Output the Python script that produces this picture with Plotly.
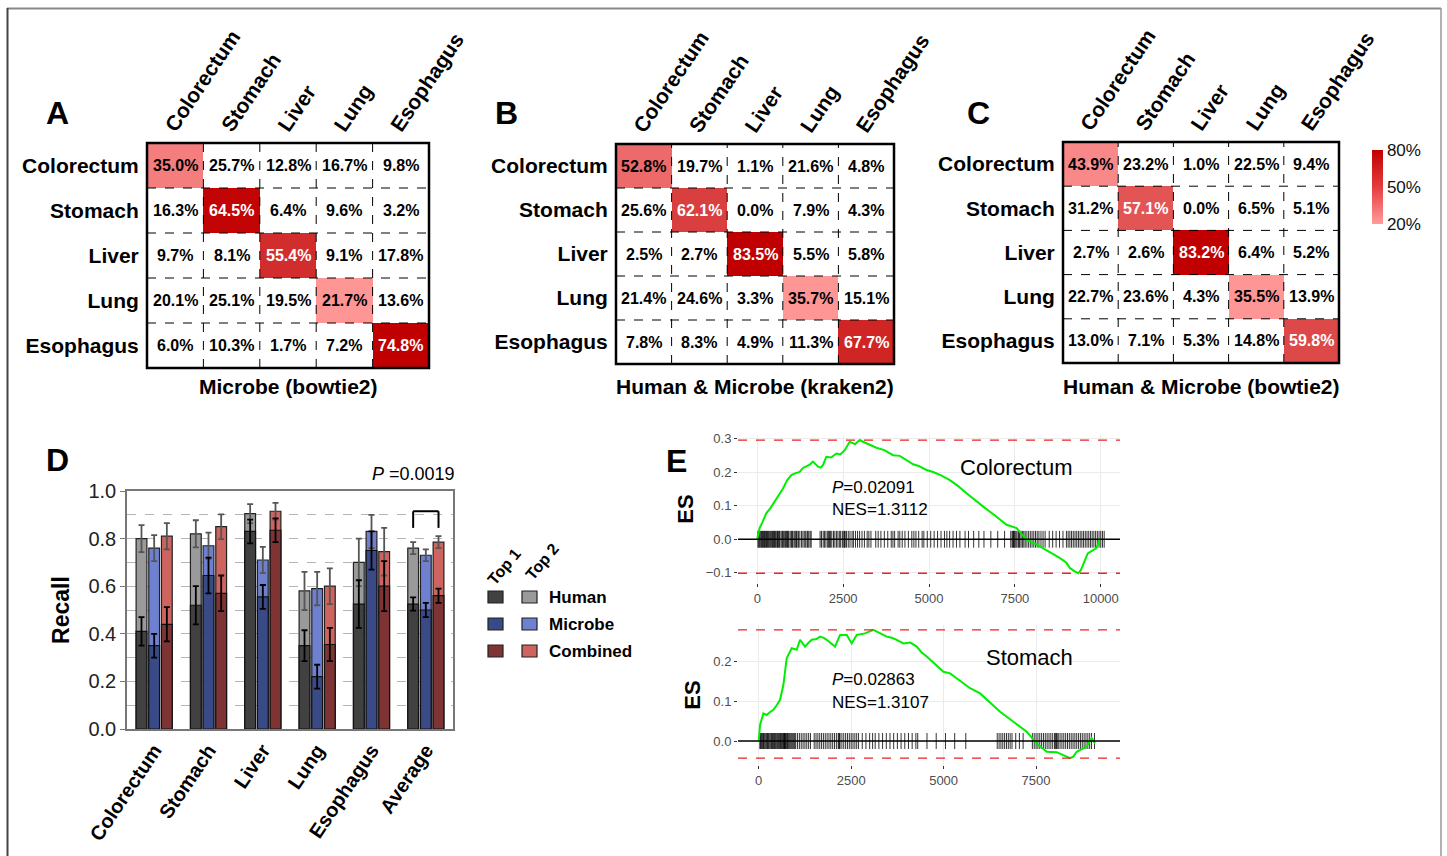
import plotly.graph_objects as go

W, H = 1447, 856
def fx(p):
    return p / W
def fy(p):
    return 1 - p / H

FONT = "Arial, 'Liberation Sans', sans-serif"

# ---------------- data: confusion matrices (A, B, C) ----------------
organs = ["Colorectum", "Stomach", "Liver", "Lung", "Esophagus"]
panel_titles = ["Microbe (bowtie2)", "Human & Microbe (kraken2)", "Human & Microbe (bowtie2)"]
conf_A = [[35.0, 25.7, 12.8, 16.7, 9.8],
          [16.3, 64.5, 6.4, 9.6, 3.2],
          [9.7, 8.1, 55.4, 9.1, 17.8],
          [20.1, 25.1, 19.5, 21.7, 13.6],
          [6.0, 10.3, 1.7, 7.2, 74.8]]
conf_B = [[52.8, 19.7, 1.1, 21.6, 4.8],
          [25.6, 62.1, 0.0, 7.9, 4.3],
          [2.5, 2.7, 83.5, 5.5, 5.8],
          [21.4, 24.6, 3.3, 35.7, 15.1],
          [7.8, 8.3, 4.9, 11.3, 67.7]]
conf_C = [[43.9, 23.2, 1.0, 22.5, 9.4],
          [31.2, 57.1, 0.0, 6.5, 5.1],
          [2.7, 2.6, 83.2, 6.4, 5.2],
          [22.7, 23.6, 4.3, 35.5, 13.9],
          [13.0, 7.1, 5.3, 14.8, 59.8]]
colorbar_ticks = [20, 50, 80]
colorbar_labels = ["20%", "50%", "80%"]

# ---------------- data: recall bars (D) ----------------
recall_cats = ["Colorectum", "Stomach", "Liver", "Lung", "Esophagus", "Average"]
human_top1 = [0.41, 0.52, 0.83, 0.35, 0.525, 0.525]
human_top1_err = [0.06, 0.08, 0.05, 0.065, 0.10, 0.028]
human_top2 = [0.80, 0.82, 0.905, 0.58, 0.70, 0.76]
human_top2_err = [0.057, 0.057, 0.04, 0.08, 0.10, 0.025]
microbe_top1 = [0.35, 0.645, 0.555, 0.22, 0.75, 0.50]
microbe_top1_err = [0.05, 0.075, 0.05, 0.05, 0.08, 0.03]
microbe_top2 = [0.76, 0.77, 0.71, 0.59, 0.83, 0.73]
microbe_top2_err = [0.055, 0.055, 0.055, 0.07, 0.07, 0.025]
combined_top1 = [0.44, 0.57, 0.835, 0.355, 0.60, 0.56]
combined_top1_err = [0.072, 0.075, 0.05, 0.07, 0.105, 0.03]
combined_top2 = [0.81, 0.85, 0.915, 0.60, 0.745, 0.785]
combined_top2_err = [0.055, 0.052, 0.035, 0.075, 0.10, 0.025]
sources = ["Human", "Microbe", "Combined"]
p_value_text = "<i>P</i> =0.0019"
bracket_top = 0.915
bracket_foot = 0.845

# ---------------- data: GSEA running enrichment (E) ----------------
crc_rank = [0, 68, 150, 262, 380, 505, 620, 750, 870, 990, 1100, 1234, 1330, 1430, 1530,
            1623, 1700, 1770, 1850, 1915, 2010, 2150, 2303, 2420, 2546, 2692, 2850, 2984,
            3080, 3178, 3320, 3469, 3700, 3955, 4150, 4300, 4538, 4700, 4927, 5121, 5350,
            5607, 5850, 6093, 6340, 6579, 6900, 7259, 7551, 7843, 8100, 8328, 8600, 8814,
            9000, 9106, 9252, 9349, 9420, 9475, 9550, 9621, 9718, 9864, 9932, 9961]
crc_es = [0.0, 0.033, 0.050, 0.077, 0.092, 0.112, 0.128, 0.151, 0.175, 0.191, 0.196,
          0.200, 0.212, 0.216, 0.222, 0.231, 0.222, 0.216, 0.213, 0.221, 0.245, 0.243,
          0.255, 0.252, 0.265, 0.290, 0.283, 0.295, 0.290, 0.285, 0.280, 0.272, 0.265,
          0.250, 0.248, 0.238, 0.223, 0.218, 0.206, 0.200, 0.190, 0.176, 0.158, 0.137,
          0.118, 0.097, 0.072, 0.043, 0.033, -0.002, -0.014, -0.027, -0.042, -0.056,
          -0.070, -0.086, -0.096, -0.101, -0.092, -0.076, -0.060, -0.042, -0.035, -0.027,
          -0.012, 0.0]
crc_hits = [20, 45, 60, 85, 110, 130, 150, 170, 190, 210, 230, 250, 270, 300, 320, 340,
            365, 390, 420, 440, 460, 480, 500, 520, 540, 570, 590, 610, 630, 650, 690, 720,
            740, 760, 800, 820, 850, 880, 900, 920, 960, 1000, 1020, 1040, 1080, 1120, 1140,
            1160, 1200, 1240, 1290, 1330, 1370, 1410, 1450, 1470, 1500, 1540, 1570,
            1830, 1870, 1920, 1960, 2000, 2050, 2080, 2100, 2130, 2170, 2220, 2260, 2310,
            2350, 2400, 2430, 2480, 2520, 2540, 2560, 2600, 2650, 2700, 2760, 2800, 2860,
            2920, 2980, 3050, 3120, 3200, 3250, 3310,
            3450, 3520, 3600, 3700, 3800, 3900, 3950, 4000, 4100, 4150, 4220, 4300, 4400,
            4500, 4560, 4620, 4700, 4800, 4850, 4950, 5050, 5150, 5250, 5350, 5450, 5520,
            5600, 5700, 5800, 5900, 6050, 6150, 6300, 6450, 6600, 6800, 7000, 7200, 7380,
            7420, 7440, 7460, 7480, 7500, 7530, 7560, 7600, 7620, 7640, 7680, 7720, 7760,
            7800, 7850, 7900, 7950, 8000, 8050, 8100, 8150, 8200, 8260, 8320, 8380,
            8500, 8600, 8700, 8800, 8900, 9000, 9050, 9100, 9150, 9200, 9250, 9300, 9350,
            9400, 9450, 9500, 9550, 9600, 9650, 9700, 9750, 9800, 9850, 9900, 9950, 10000,
            10050, 10100]
stom_rank = [0, 36, 126, 216, 300, 397, 490, 577, 667, 757, 892, 1028, 1118, 1253, 1340,
             1433, 1560, 1659, 1760, 1839, 2064, 2200, 2380, 2515, 2650, 2876, 3101, 3281,
             3462, 3600, 3732, 3913, 4100, 4273, 4400, 4544, 4780, 4995, 5175, 5450, 5716,
             5986, 6250, 6527, 6888, 7248, 7518, 7788, 8058, 8238, 8419, 8509, 8599, 8869,
             9004, 9094]
stom_es = [0.0, 0.040, 0.069, 0.065, 0.072, 0.078, 0.090, 0.103, 0.140, 0.207, 0.232,
           0.228, 0.253, 0.236, 0.245, 0.253, 0.255, 0.261, 0.258, 0.253, 0.236, 0.265,
           0.265, 0.244, 0.265, 0.269, 0.278, 0.269, 0.261, 0.258, 0.253, 0.244, 0.246,
           0.236, 0.222, 0.211, 0.192, 0.173, 0.169, 0.150, 0.132, 0.119, 0.097, 0.073,
           0.048, 0.023, -0.006, -0.027, -0.028, -0.035, -0.043, -0.039, -0.027, -0.014,
           0.007, -0.006]
stom_hits = [30, 50, 70, 90, 110, 130, 150, 175, 200, 220, 240, 260, 280, 305, 330, 350,
             370, 390, 410, 430, 450, 475, 500, 520, 540, 565, 590, 610, 630, 650, 670,
             690, 700, 710, 720, 740, 760, 780, 800, 825, 850, 875, 900, 925, 950, 975,
             1000, 1050, 1100, 1150, 1200, 1250, 1300, 1350, 1400,
             1500, 1550, 1600, 1650, 1700, 1750, 1800, 1850, 1900, 1950, 2000, 2050, 2100,
             2150, 2170, 2180, 2200, 2250, 2300, 2350, 2400, 2450, 2500, 2550, 2600, 2650,
             2700, 2800, 2900, 3000, 3080, 3150, 3250, 3350, 3450, 3550, 3650, 3750, 3850,
             3950, 4050, 4150, 4250, 4300, 4550, 4800, 5050, 5300, 5600,
             6450, 6500, 6550, 6600, 6650, 6700, 6750, 6800, 6850, 6950, 7050, 7150,
             7400, 7450, 7500, 7550, 7600, 7650, 7700, 7750, 7800, 7850, 7900, 7950, 8000,
             8030, 8050, 8070, 8100, 8150, 8200, 8250, 8300, 8350, 8400, 8450, 8500, 8550,
             8600, 8650, 8700, 8750, 8800, 8850, 8900, 8950, 9000, 9080]
gsea_names = ["Colorectum", "Stomach"]
gsea_p = ["0.02091", "0.02863"]
gsea_nes = ["1.3112", "1.3107"]

# ---------------- styles ----------------
heat_scale = [[0, "#ff9696"], [0.2, "#f88686"], [0.36, "#ec6a6a"], [0.5, "#de4a4a"],
              [0.65, "#d12a2a"], [0.8, "#c20404"], [1, "#c00000"]]
cbar_scale = [[0, "#ff9c9c"], [0.5, "#e63c3c"], [1, "#c00000"]]
dark_cols = {"Human": "#414141", "Microbe": "#3a4a86", "Combined": "#7e3434"}
light_cols = {"Human": "#9a9a9a", "Microbe": "#6e80cf", "Combined": "#cd6460"}

fig = go.Figure()
layout = dict()
shapes = []
annots = []


def ptext(x, y, text, size, weight="normal", xanchor="center", angle=0, color="black"):
    annots.append(dict(x=fx(x), y=fy(y), xref="paper", yref="paper", text=text,
                       xanchor=xanchor, yanchor="middle", showarrow=False, textangle=angle,
                       font=dict(family=FONT, size=size, color=color, weight=weight)))


# ---------------- heatmaps ----------------
heat_boxes = [(147, 429, 143, 368), (616, 894, 144, 364), (1063, 1339, 142, 363)]
letters = [("A", 57, 113), ("B", 506, 113), ("C", 978, 113)]
for i, conf in enumerate([conf_A, conf_B, conf_C]):
    n = i + 1
    xa = "x" if n == 1 else f"x{n}"
    ya = "y" if n == 1 else f"y{n}"
    xl = "xaxis" if n == 1 else f"xaxis{n}"
    yl = "yaxis" if n == 1 else f"yaxis{n}"
    l, r, t, b = heat_boxes[i]
    diag = [conf[k][k] for k in range(5)]
    z = [[conf[rr][cc] if rr == cc else None for cc in range(5)] for rr in range(5)]
    fig.add_trace(go.Heatmap(z=z, x=organs, y=organs, colorscale=heat_scale,
                             zmin=min(diag), zmax=max(diag), showscale=False,
                             xaxis=xa, yaxis=ya, hoverinfo="skip"))
    for rr in range(5):
        for cc in range(5):
            v = conf[rr][cc]
            col = "white" if (rr == cc and v >= 55) else "black"
            annots.append(dict(x=cc, y=rr, xref=xa, yref=ya, text=f"{v:.1f}%",
                               showarrow=False,
                               font=dict(family=FONT, size=16, color=col, weight="bold")))
    layout[xl] = dict(domain=[fx(l), fx(r)], anchor=ya, side="top", tickangle=-56,
                      tickfont=dict(family=FONT, size=21, color="black", weight="bold"),
                      showgrid=False, zeroline=False, ticks="", range=[-0.5, 4.5],
                      type="category", automargin=False, ticklabelshift=-8)
    layout[yl] = dict(domain=[fy(b), fy(t)], anchor=xa, range=[4.5, -0.5],
                      tickfont=dict(family=FONT, size=21, color="black", weight="bold"),
                      showgrid=False, zeroline=False, ticks="outside", ticklen=3,
                      tickcolor="rgba(0,0,0,0)", type="category", automargin=False)
    for k in range(4):
        shapes.append(dict(type="line", xref=xa, yref=f"{ya} domain", x0=k + 0.5, x1=k + 0.5,
                           y0=0, y1=1, line=dict(color="black", width=1, dash="dash")))
        shapes.append(dict(type="line", xref=f"{xa} domain", yref=ya, x0=0, x1=1,
                           y0=k + 0.5, y1=k + 0.5, line=dict(color="black", width=1, dash="dash")))
    shapes.append(dict(type="rect", xref=f"{xa} domain", yref=f"{ya} domain", x0=0, x1=1,
                       y0=0, y1=1, line=dict(color="black", width=2.5)))
    ptext((l + r) / 2, 387, panel_titles[i], 21, "bold")
    L, lx, ly = letters[i]
    ptext(lx, ly, L, 32, "bold")

# colorbar (shared legend of the heatmaps)
fig.add_trace(go.Scatter(x=[organs[0]], y=[organs[0]], mode="markers", xaxis="x3", yaxis="y3",
                         hoverinfo="skip", showlegend=False,
                         marker=dict(size=0, color=[colorbar_ticks[0], colorbar_ticks[-1]],
                                     cmin=colorbar_ticks[0], cmax=colorbar_ticks[-1],
                                     colorscale=cbar_scale, showscale=True,
                                     colorbar=dict(x=fx(1372), xanchor="left", y=fy(187),
                                                   yanchor="middle", len=74 / H,
                                                   lenmode="fraction", thickness=11,
                                                   thicknessmode="pixels", outlinewidth=0,
                                                   tickvals=colorbar_ticks,
                                                   ticktext=colorbar_labels, ticks="",
                                                   tickfont=dict(family=FONT, size=17,
                                                                 color="#111"),
                                                   xpad=0, ypad=0))))

# ---------------- bar chart D ----------------
bar_data = {
    "Human": (human_top1, human_top1_err, human_top2, human_top2_err),
    "Microbe": (microbe_top1, microbe_top1_err, microbe_top2, microbe_top2_err),
    "Combined": (combined_top1, combined_top1_err, combined_top2, combined_top2_err),
}
for src in sources:
    t1, e1, t2, e2 = bar_data[src]
    fig.add_trace(go.Bar(x=recall_cats, y=t2, offsetgroup=src, xaxis="x4", yaxis="y4",
                         marker=dict(color=light_cols[src], line=dict(color="#222", width=1.2)),
                         error_y=dict(type="data", array=e2, color="#555555", thickness=1.8,
                                      width=3),
                         showlegend=False, hoverinfo="skip"))
    fig.add_trace(go.Bar(x=recall_cats, y=t1, offsetgroup=src, xaxis="x4", yaxis="y4",
                         marker=dict(color=dark_cols[src], line=dict(color="#111", width=1.2)),
                         error_y=dict(type="data", array=e1, color="black", thickness=1.8,
                                      width=3),
                         showlegend=False, hoverinfo="skip"))

layout["xaxis4"] = dict(domain=[fx(127), fx(453)], anchor="y4", range=[-0.5, 5.5],
                        tickangle=-56, ticks="", automargin=False,
                        tickfont=dict(family=FONT, size=20, color="black", weight="bold"),
                        showline=True, mirror=True, linecolor="#777", linewidth=1.5,
                        showgrid=False, zeroline=False)
layout["yaxis4"] = dict(domain=[fy(729), fy(491)], anchor="x4", range=[0, 1.0], dtick=0.2,
                        tickformat=".1f", showgrid=True, gridcolor="#b5b5b5", griddash="dash",
                        gridwidth=1, automargin=False,
                        minor=dict(dtick=0.1, showgrid=True, gridcolor="#b5b5b5",
                                   griddash="dash", gridwidth=1),
                        showline=True, mirror=True, linecolor="#777", linewidth=1.5,
                        ticks="outside", ticklen=5, tickcolor="#777", zeroline=False,
                        tickfont=dict(family=FONT, size=20, color="#222"),
                        title=dict(text="Recall", standoff=12,
                                   font=dict(family=FONT, size=23, color="black",
                                             weight="bold")))

# bracket over the Average group (Human vs Combined)
grp = (1 - 0.3) / 3
avg_idx = recall_cats.index("Average")
bx0 = avg_idx - grp
bx1 = avg_idx + grp
for (x0, y0, x1, y1) in [(bx0, bracket_foot, bx0, bracket_top),
                         (bx0, bracket_top, bx1, bracket_top),
                         (bx1, bracket_top, bx1, bracket_foot)]:
    shapes.append(dict(type="line", xref="x4", yref="y4", x0=x0, x1=x1, y0=y0, y1=y1,
                       line=dict(color="black", width=2)))
ptext(457, 474, p_value_text, 18, xanchor="right")
ptext(57, 460, "D", 32, "bold")

# legend for D
legend_rows = [597, 624, 651]
for src, yc in zip(sources, legend_rows):
    shapes.append(dict(type="rect", xref="paper", yref="paper", x0=fx(488), x1=fx(503),
                       y0=fy(yc + 6), y1=fy(yc - 6), fillcolor=dark_cols[src],
                       line=dict(color="#222", width=1.2)))
    shapes.append(dict(type="rect", xref="paper", yref="paper", x0=fx(522), x1=fx(537),
                       y0=fy(yc + 6), y1=fy(yc - 6), fillcolor=light_cols[src],
                       line=dict(color="#222", width=1.2)))
    ptext(547, yc, src, 17, "bold", xanchor="left")
ptext(504, 566, "Top 1", 16, "bold", angle=-50)
ptext(542, 561, "Top 2", 16, "bold", angle=-50)

# ---------------- GSEA E ----------------
gsea_sets = [
    dict(rank=crc_rank, es=crc_es, hits=crc_hits, ax="5", box=(738, 1120, 435, 583),
         xr=[-560, 10560], yr=[-0.13, 0.31], xt=[0, 2500, 5000, 7500, 10000],
         yt=[-0.1, 0.0, 0.1, 0.2, 0.3], rug=0.025,
         name_pos=(1016, 467), stat_pos=(830, 487, 509)),
    dict(rank=stom_rank, es=stom_es, hits=stom_hits, ax="6", box=(738, 1120, 625, 765),
         xr=[-560, 9770], yr=[-0.06, 0.29], xt=[0, 2500, 5000, 7500],
         yt=[0.0, 0.1, 0.2], rug=0.02,
         name_pos=(1029, 657), stat_pos=(830, 679, 702)),
]
for gi, g in enumerate(gsea_sets):
    xa, ya = "x" + g["ax"], "y" + g["ax"]
    l, r, t, b = g["box"]
    rx, ry = [], []
    for h in g["hits"]:
        rx += [h, h, None]
        ry += [-g["rug"], g["rug"], None]
    fig.add_trace(go.Scatter(x=rx, y=ry, mode="lines", xaxis=xa, yaxis=ya,
                             line=dict(color="rgba(0,0,0,0.8)", width=1),
                             showlegend=False, hoverinfo="skip"))
    fig.add_trace(go.Scatter(x=g["rank"], y=g["es"], mode="lines", xaxis=xa, yaxis=ya,
                             line=dict(color="#00ee00", width=2),
                             showlegend=False, hoverinfo="skip"))
    shapes.append(dict(type="line", xref=f"{xa} domain", yref=ya, x0=0, x1=1, y0=0, y1=0,
                       line=dict(color="black", width=1.3), layer="above"))
    for yv in (max(g["es"]), min(g["es"])):
        shapes.append(dict(type="line", xref=f"{xa} domain", yref=ya, x0=0, x1=1,
                           y0=yv, y1=yv, line=dict(color="#ee2222", width=1.3, dash="dash")))
    layout["xaxis" + g["ax"]] = dict(domain=[fx(l), fx(r)], anchor=ya, range=g["xr"],
                                     tickvals=g["xt"], ticktext=[str(v) for v in g["xt"]],
                                     showgrid=True, gridcolor="#ebebeb", automargin=False,
                                     zeroline=False, showline=False, ticks="outside",
                                     ticklen=3, tickcolor="#333",
                                     tickfont=dict(family=FONT, size=13, color="#4d4d4d"))
    layout["yaxis" + g["ax"]] = dict(domain=[fy(b), fy(t)], anchor=xa, range=g["yr"],
                                     tickvals=g["yt"], tickformat=".1f", showgrid=True,
                                     gridcolor="#ebebeb", zeroline=False, showline=False,
                                     ticks="outside", ticklen=3, tickcolor="#333",
                                     automargin=False,
                                     tickfont=dict(family=FONT, size=13, color="#4d4d4d"),
                                     title=dict(text="ES", standoff=6,
                                                font=dict(family=FONT, size=22,
                                                          color="black", weight="bold")))
    nx, ny = g["name_pos"]
    ptext(nx, ny, gsea_names[gi], 22)
    sx, sy1, sy2 = g["stat_pos"]
    ptext(sx, sy1, f"<i>P</i>={gsea_p[gi]}", 17, xanchor="left")
    ptext(sx, sy2, f"NES={gsea_nes[gi]}", 17, xanchor="left")
ptext(676, 461, "E", 32, "bold")

# figure frame
shapes.append(dict(type="line", xref="paper", yref="paper", x0=fx(7), x1=fx(1441),
                   y0=fy(8.5), y1=fy(8.5), line=dict(color="#888", width=2)))
shapes.append(dict(type="line", xref="paper", yref="paper", x0=fx(7.5), x1=fx(7.5),
                   y0=fy(8), y1=0, line=dict(color="#444", width=2)))
shapes.append(dict(type="line", xref="paper", yref="paper", x0=fx(1441), x1=fx(1441),
                   y0=fy(8), y1=0, line=dict(color="#999", width=1.5)))

fig.update_layout(**layout)
fig.update_layout(width=W, height=H, margin=dict(l=0, r=0, t=0, b=0, autoexpand=False),
                  paper_bgcolor="white", plot_bgcolor="white",
                  barmode="group", bargap=0.3, bargroupgap=0.15,
                  shapes=shapes, annotations=annots, showlegend=False,
                  font=dict(family=FONT))
fig.write_html("out.html", config={"displayModeBar": False},
               post_script="document.body.style.margin='0px';document.body.style.overflow='hidden';")
